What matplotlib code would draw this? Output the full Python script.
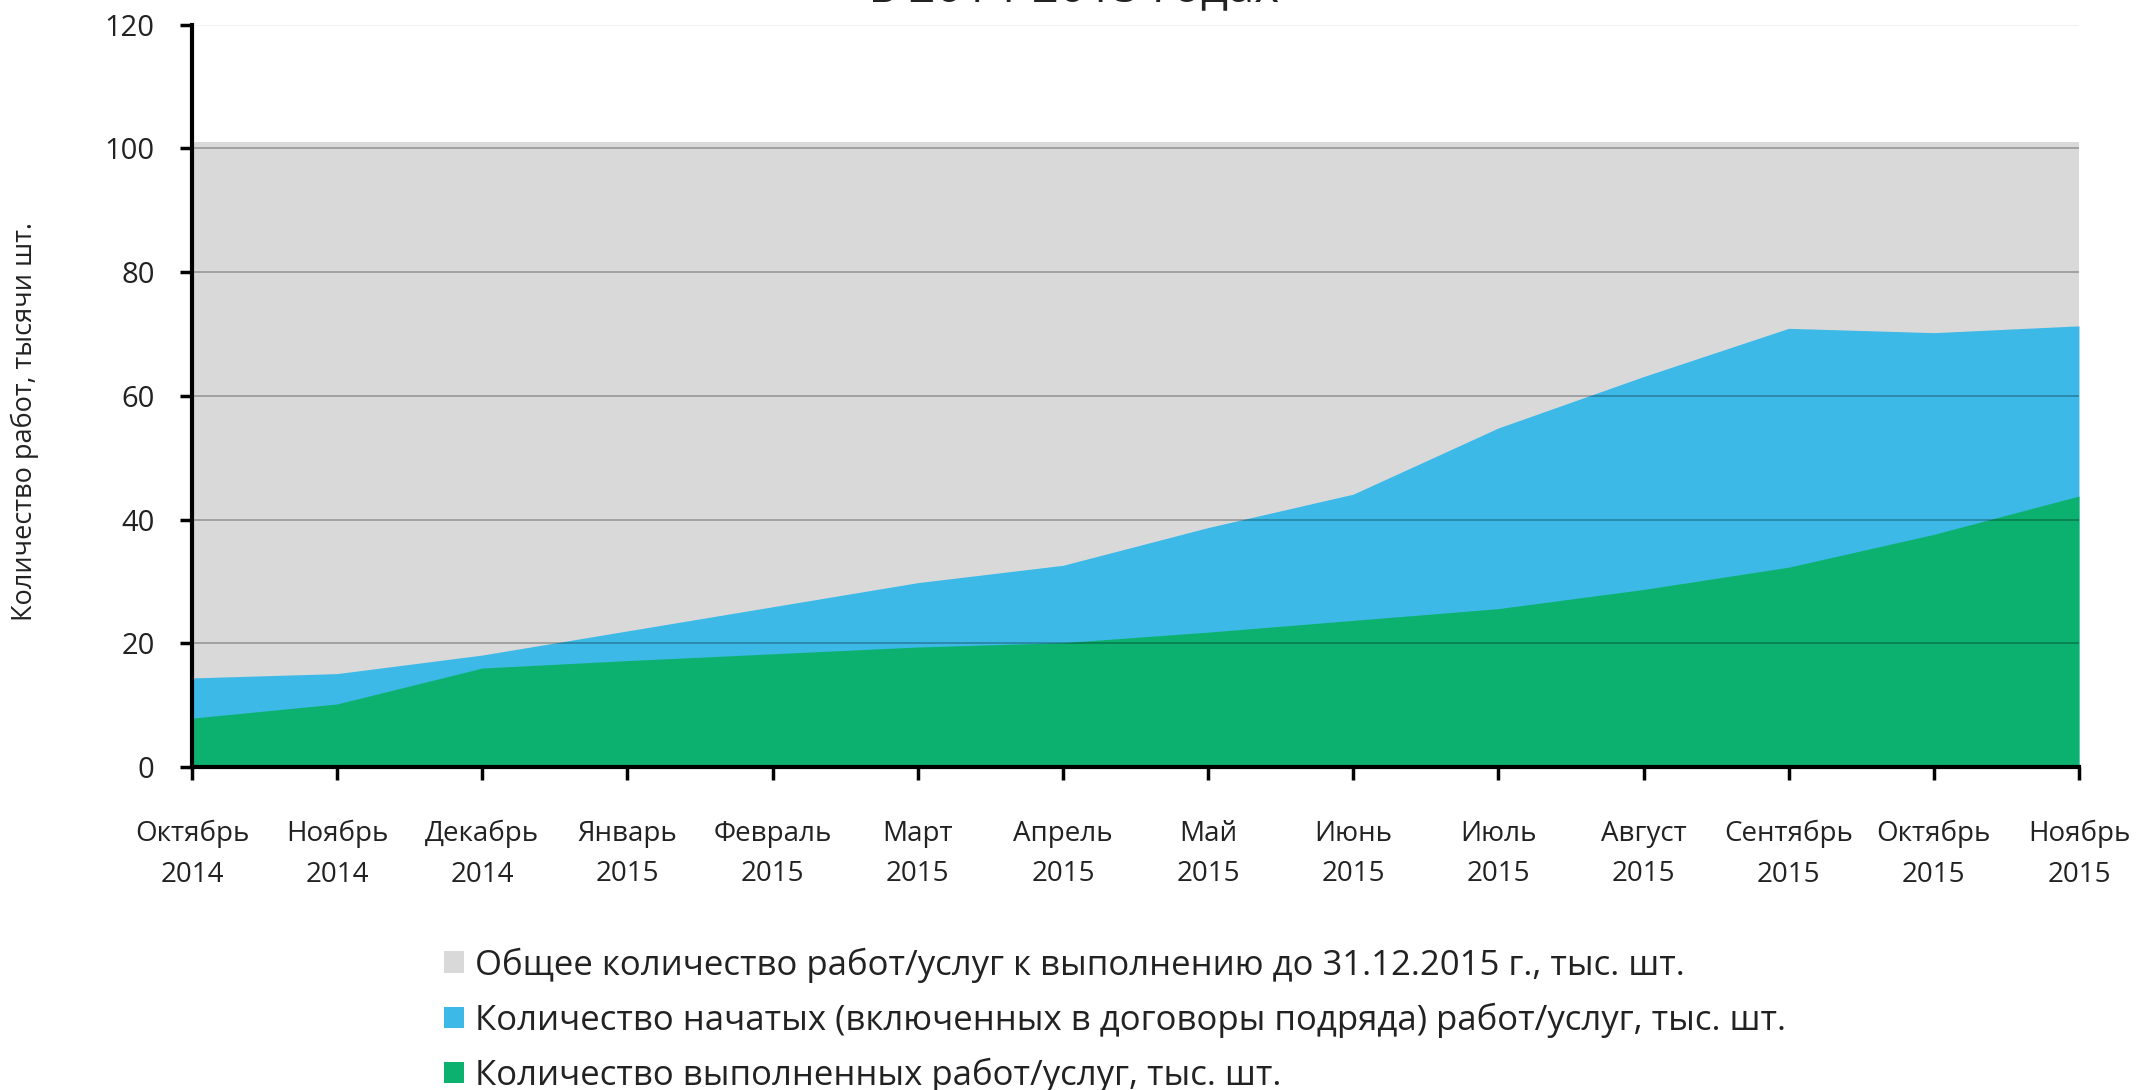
import numpy as np
import matplotlib
matplotlib.use("Agg")
import matplotlib.pyplot as plt
from matplotlib import rcParams

rcParams["font.family"] = ["Open Sans", "DejaVu Sans"]
rcParams["axes.unicode_minus"] = False

months = ["Октябрь\n2014", "Ноябрь\n2014", "Декабрь\n2014", "Январь\n2015",
          "Февраль\n2015", "Март\n2015", "Апрель\n2015", "Май\n2015",
          "Июнь\n2015", "Июль\n2015", "Август\n2015", "Сентябрь\n2015",
          "Октябрь\n2015", "Ноябрь\n2015"]

total_works = [101, 101, 101, 101, 101, 101, 101, 101, 101, 101, 101, 101, 101, 101]
started = [14.4, 15.1, 18.1, 22.0, 25.9, 29.8, 32.6, 38.7, 44.1, 54.8, 63.1, 70.9, 70.2, 71.3]
completed = [7.9, 10.2, 16.0, 17.2, 18.3, 19.4, 20.1, 21.8, 23.7, 25.6, 28.7, 32.3, 37.6, 43.8]

labels = [
    "Общее количество работ/услуг к выполнению до 31.12.2015 г., тыс. шт.",
    "Количество начатых (включенных в договоры подряда) работ/услуг, тыс. шт.",
    "Количество выполненных работ/услуг, тыс. шт.",
]
colors = ["#d9d9d9", "#3cb9e6", "#0db16f"]

fig = plt.figure(figsize=(21.36, 10.9), dpi=100)
ax = fig.add_axes([0.0899, 0.2963, 0.8834, 0.6812])

x = np.arange(len(months))
h1 = ax.fill_between(x, 0, total_works, color=colors[0], lw=0, label=labels[0], zorder=1)
h2 = ax.fill_between(x, 0, started, color=colors[1], lw=0, label=labels[1], zorder=2)
h3 = ax.fill_between(x, 0, completed, color=colors[2], lw=0, label=labels[2], zorder=3)

# gridlines drawn over the areas, semi-transparent like the original
for v in [20, 40, 60, 80, 100]:
    ax.axhline(v, color="black", alpha=0.3, lw=1.2, zorder=4)
ax.axhline(120, color="#f0f0f0", lw=1.2, zorder=0)

ax.set_xlim(x[0], x[-1])
ax.set_ylim(0, 120)
ax.set_yticks(range(0, 121, 20))
ax.set_xticks(x)
ax.set_xticklabels(months, fontsize=20, color="#222222", linespacing=1.6)
ax.tick_params(axis="y", labelsize=21, colors="black", length=9, width=2.5, pad=18,
               labelcolor="#222222")
ax.tick_params(axis="x", length=9, width=2.5, pad=29)

for s in ["top", "right"]:
    ax.spines[s].set_visible(False)
for s in ["left", "bottom"]:
    ax.spines[s].set_linewidth(3)
    ax.spines[s].set_zorder(5)

fig.text(0.0117, 0.613, "Количество работ, тысячи шт.", rotation=90,
         ha="center", va="center", fontsize=19.5, color="#222222")

# title is cut at the top edge in the original
fig.text(0.503, 0.998, "в 2014-2015 годах", ha="center", va="baseline",
         fontsize=34, color="#222222")

fig.legend(handles=[h1, h2, h3], loc="upper left",
           bbox_to_anchor=(0.2079, 0.131), frameon=False,
           fontsize=25, handlelength=0.58, handleheight=0.58,
           handletextpad=0.32, labelspacing=0.57, borderpad=0,
           borderaxespad=0, labelcolor="#222222")

fig.savefig("out.png", dpi=100)
